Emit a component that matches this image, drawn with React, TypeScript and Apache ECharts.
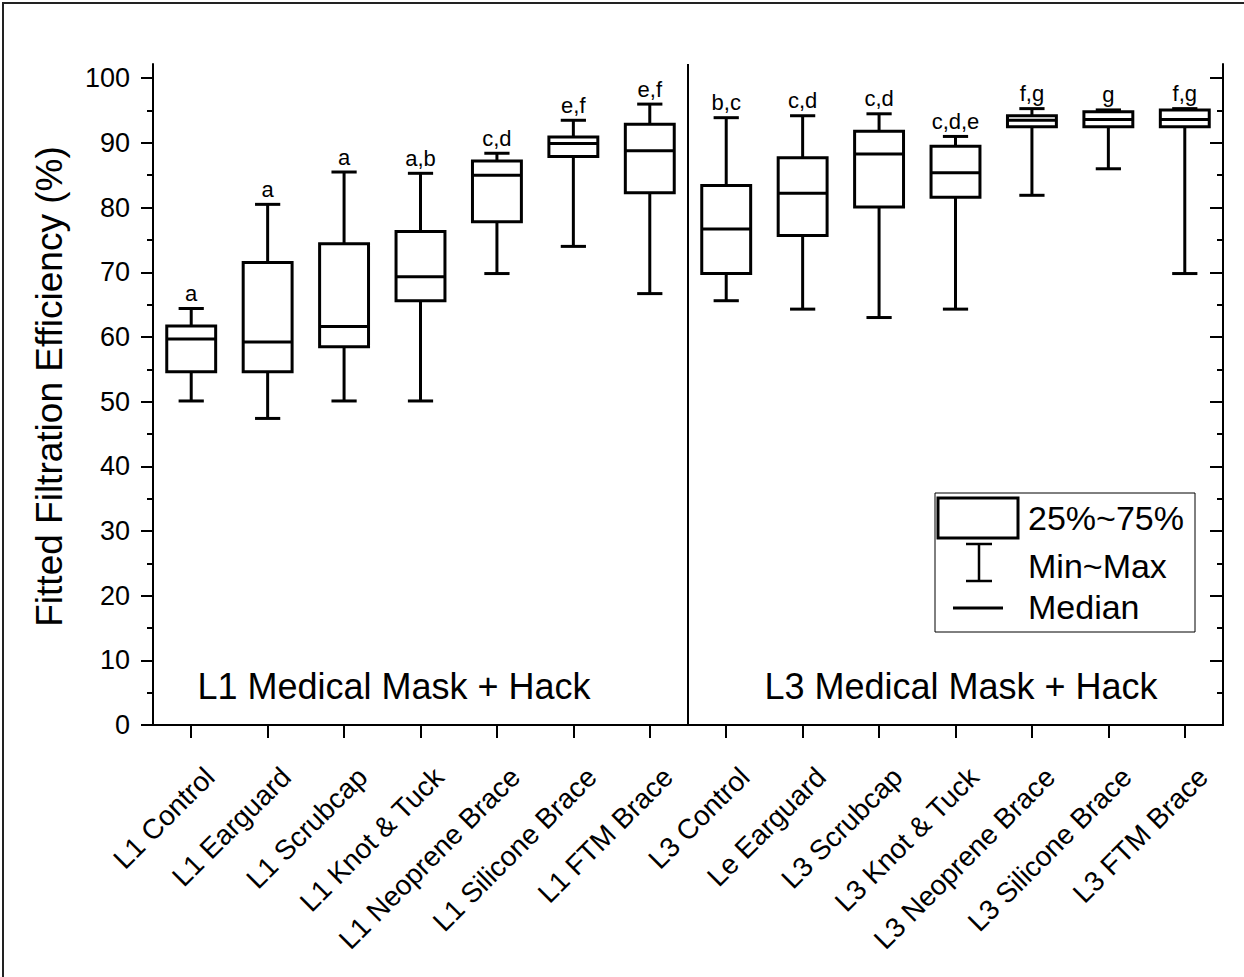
import React, { useEffect, useRef } from "react";
import * as echarts from "echarts";

const categories = [
  "L1 Control", "L1 Earguard", "L1 Scrubcap", "L1 Knot & Tuck", "L1 Neoprene Brace",
  "L1 Silicone Brace", "L1 FTM Brace", "L3 Control", "Le Earguard", "L3 Scrubcap",
  "L3 Knot & Tuck", "L3 Neoprene Brace", "L3 Silicone Brace", "L3 FTM Brace",
];
const minValues = [50.1, 47.4, 50.1, 50.1, 69.8, 74.0, 66.7, 65.6, 64.3, 63.0, 64.3, 81.9, 86.0, 69.8];
const q1Values = [54.6, 54.6, 58.5, 65.6, 77.8, 87.9, 82.3, 69.8, 75.7, 80.1, 81.6, 92.5, 92.5, 92.5];
const medianValues = [59.7, 59.2, 61.6, 69.3, 85.0, 89.9, 88.8, 76.7, 82.2, 88.3, 85.4, 93.5, 93.6, 93.6];
const q3Values = [61.7, 71.5, 74.4, 76.3, 87.2, 90.9, 92.9, 83.4, 87.7, 91.8, 89.5, 94.2, 94.8, 95.1];
const maxValues = [64.4, 80.5, 85.5, 85.3, 88.4, 93.5, 96.0, 93.9, 94.2, 94.5, 91.0, 95.3, 95.1, 95.3];
const groupLetters = ["a", "a", "a", "a,b", "c,d", "e,f", "e,f", "b,c", "c,d", "c,d", "c,d,e", "f,g", "g", "f,g"];
const majorTicks = [0, 10, 20, 30, 40, 50, 60, 70, 80, 90, 100];
const minorTicks = [5, 15, 25, 35, 45, 55, 65, 75, 85, 95];
const yMin = 0;
const yMax = 102.2;
const yTitle = "Fitted Filtration Efficiency (%)";
const groupTitles = ["L1 Medical Mask + Hack", "L3 Medical Mask + Hack"];
const legendTexts = ["25%~75%", "Min~Max", "Median"];

const FONT = "'Liberation Sans', Arial, Helvetica, sans-serif";

export default function App() {
  const ref = useRef<HTMLDivElement>(null);
  useEffect(() => {
    if (!ref.current) return;
    const chart = echarts.init(ref.current, undefined, { renderer: "svg" });
    const grid = { left: 153, right: 21, top: 64, bottom: 252 };
    const data = categories.map((_, i) => [i, minValues[i], q1Values[i], medianValues[i], q3Values[i], maxValues[i]]);
    const axisLine = { show: true, lineStyle: { color: "#000", width: 2 } };
    const option: any = {
      animation: false,
      backgroundColor: "#fff",
      grid: [
        { ...grid },
        { ...grid },
      ],
      xAxis: [
        {
          type: "category", gridIndex: 0, position: "bottom", data: categories,
          axisLine, splitLine: { show: false },
          axisTick: { show: true, alignWithLabel: true, inside: false, length: 13, lineStyle: { color: "#000", width: 2 } },
          axisLabel: {
            rotate: 45, fontSize: 28, fontFamily: FONT, color: "#000", margin: 29, interval: 0,
            align: "right", verticalAlign: "top", padding: [12, 0, 0, 0],
          },
        },
        {
          type: "category", gridIndex: 1, position: "top", data: categories,
          axisLine, splitLine: { show: false },
          axisTick: { show: true, alignWithLabel: true, inside: true, length: 13, lineStyle: { color: "#000", width: 2 } },
          axisLabel: { show: false },
        },
      ],
      yAxis: [
        {
          type: "value", gridIndex: 0, position: "left", min: yMin, max: yMax,
          axisLine, splitLine: { show: false },
          axisTick: { show: true, inside: false, length: 12, customValues: majorTicks, lineStyle: { color: "#000", width: 2 } },
          axisLabel: { customValues: majorTicks, fontSize: 27, fontFamily: FONT, color: "#000", margin: 23 },
          name: yTitle, nameLocation: "middle", nameGap: 85,
          nameTextStyle: { fontSize: 37, fontFamily: FONT, color: "#000", padding: [0, 0, 0, 16] },
        },
        {
          type: "value", gridIndex: 0, position: "right", min: yMin, max: yMax,
          axisLine, splitLine: { show: false },
          axisTick: { show: true, inside: true, length: 13, customValues: majorTicks, lineStyle: { color: "#000", width: 2 } },
          axisLabel: { show: false },
        },
        {
          type: "value", gridIndex: 1, position: "left", min: yMin, max: yMax,
          axisLine: { show: false }, splitLine: { show: false },
          axisTick: { show: true, inside: false, length: 6, customValues: minorTicks, lineStyle: { color: "#000", width: 2 } },
          axisLabel: { show: false },
        },
        {
          type: "value", gridIndex: 1, position: "right", min: yMin, max: yMax,
          axisLine: { show: false }, splitLine: { show: false },
          axisTick: { show: true, inside: true, length: 6, customValues: minorTicks, lineStyle: { color: "#000", width: 2 } },
          axisLabel: { show: false },
        },
      ],
      series: [
        {
          type: "custom",
          xAxisIndex: 0,
          yAxisIndex: 0,
          encode: { x: 0, y: [1, 2, 3, 4, 5] },
          data,
          renderItem: (params: any, api: any) => {
            const i = api.value(0);
            const xc = api.coord([i, 0])[0];
            const pMin = api.coord([i, api.value(1)])[1];
            const pQ1 = api.coord([i, api.value(2)])[1];
            const pMed = api.coord([i, api.value(3)])[1];
            const pQ3 = api.coord([i, api.value(4)])[1];
            const pMax = api.coord([i, api.value(5)])[1];
            const band = api.size([1, 0])[0];
            const bw = band * 0.64;
            const cw = band * 0.33;
            const st = { stroke: "#000", lineWidth: 3, fill: null };
            return {
              type: "group",
              children: [
                { type: "line", shape: { x1: xc, y1: pQ3, x2: xc, y2: pMax }, style: st },
                { type: "line", shape: { x1: xc, y1: pQ1, x2: xc, y2: pMin }, style: st },
                { type: "line", shape: { x1: xc - cw / 2, y1: pMax, x2: xc + cw / 2, y2: pMax }, style: st },
                { type: "line", shape: { x1: xc - cw / 2, y1: pMin, x2: xc + cw / 2, y2: pMin }, style: st },
                { type: "rect", shape: { x: xc - bw / 2, y: pQ3, width: bw, height: pQ1 - pQ3 }, style: { stroke: "#000", lineWidth: 3, fill: "#fff" } },
                { type: "line", shape: { x1: xc - bw / 2, y1: pMed, x2: xc + bw / 2, y2: pMed }, style: st },
                {
                  type: "text", x: xc, y: pMax - 4,
                  style: { text: groupLetters[i], align: "center", verticalAlign: "bottom", textAlign: "center", textVerticalAlign: "bottom", fontSize: 22, fontFamily: FONT, fill: "#000" },
                },
              ],
            };
          },
        },
      ],
      graphic: [
        { type: "rect", shape: { x: 3, y: 3, width: 1300, height: 1100 }, style: { stroke: "#222", lineWidth: 2, fill: null }, silent: true },
        { type: "line", shape: { x1: 688, y1: 64, x2: 688, y2: 725 }, style: { stroke: "#000", lineWidth: 2 } },
        { type: "text", x: 394, y: 686, style: { text: groupTitles[0], align: "center", verticalAlign: "middle", textAlign: "center", textVerticalAlign: "middle", fontSize: 36, fontFamily: FONT, fill: "#000" } },
        { type: "text", x: 961, y: 686, style: { text: groupTitles[1], align: "center", verticalAlign: "middle", textAlign: "center", textVerticalAlign: "middle", fontSize: 36, fontFamily: FONT, fill: "#000" } },
        { type: "rect", shape: { x: 935, y: 493, width: 260, height: 139 }, style: { stroke: "#000", lineWidth: 1, fill: "#fff" } },
        { type: "rect", shape: { x: 938, y: 498, width: 80, height: 40 }, style: { stroke: "#000", lineWidth: 3, fill: "#fff" } },
        { type: "line", shape: { x1: 979, y1: 544, x2: 979, y2: 581 }, style: { stroke: "#000", lineWidth: 2.5 } },
        { type: "line", shape: { x1: 966, y1: 544, x2: 992, y2: 544 }, style: { stroke: "#000", lineWidth: 2.5 } },
        { type: "line", shape: { x1: 966, y1: 581, x2: 992, y2: 581 }, style: { stroke: "#000", lineWidth: 2.5 } },
        { type: "line", shape: { x1: 953, y1: 608, x2: 1003, y2: 608 }, style: { stroke: "#000", lineWidth: 3 } },
        { type: "text", x: 1028, y: 518, style: { text: legendTexts[0], align: "left", verticalAlign: "middle", textAlign: "left", textVerticalAlign: "middle", fontSize: 34, fontFamily: FONT, fill: "#000" } },
        { type: "text", x: 1028, y: 566, style: { text: legendTexts[1], align: "left", verticalAlign: "middle", textAlign: "left", textVerticalAlign: "middle", fontSize: 34, fontFamily: FONT, fill: "#000" } },
        { type: "text", x: 1028, y: 607, style: { text: legendTexts[2], align: "left", verticalAlign: "middle", textAlign: "left", textVerticalAlign: "middle", fontSize: 34, fontFamily: FONT, fill: "#000" } },
      ],
    };
    chart.setOption(option);
    return () => chart.dispose();
  }, []);
  return (
    <div
      ref={ref}
      style={{ position: "fixed", left: 0, top: 0, width: 1244, height: 977, background: "#fff" }}
    />
  );
}
